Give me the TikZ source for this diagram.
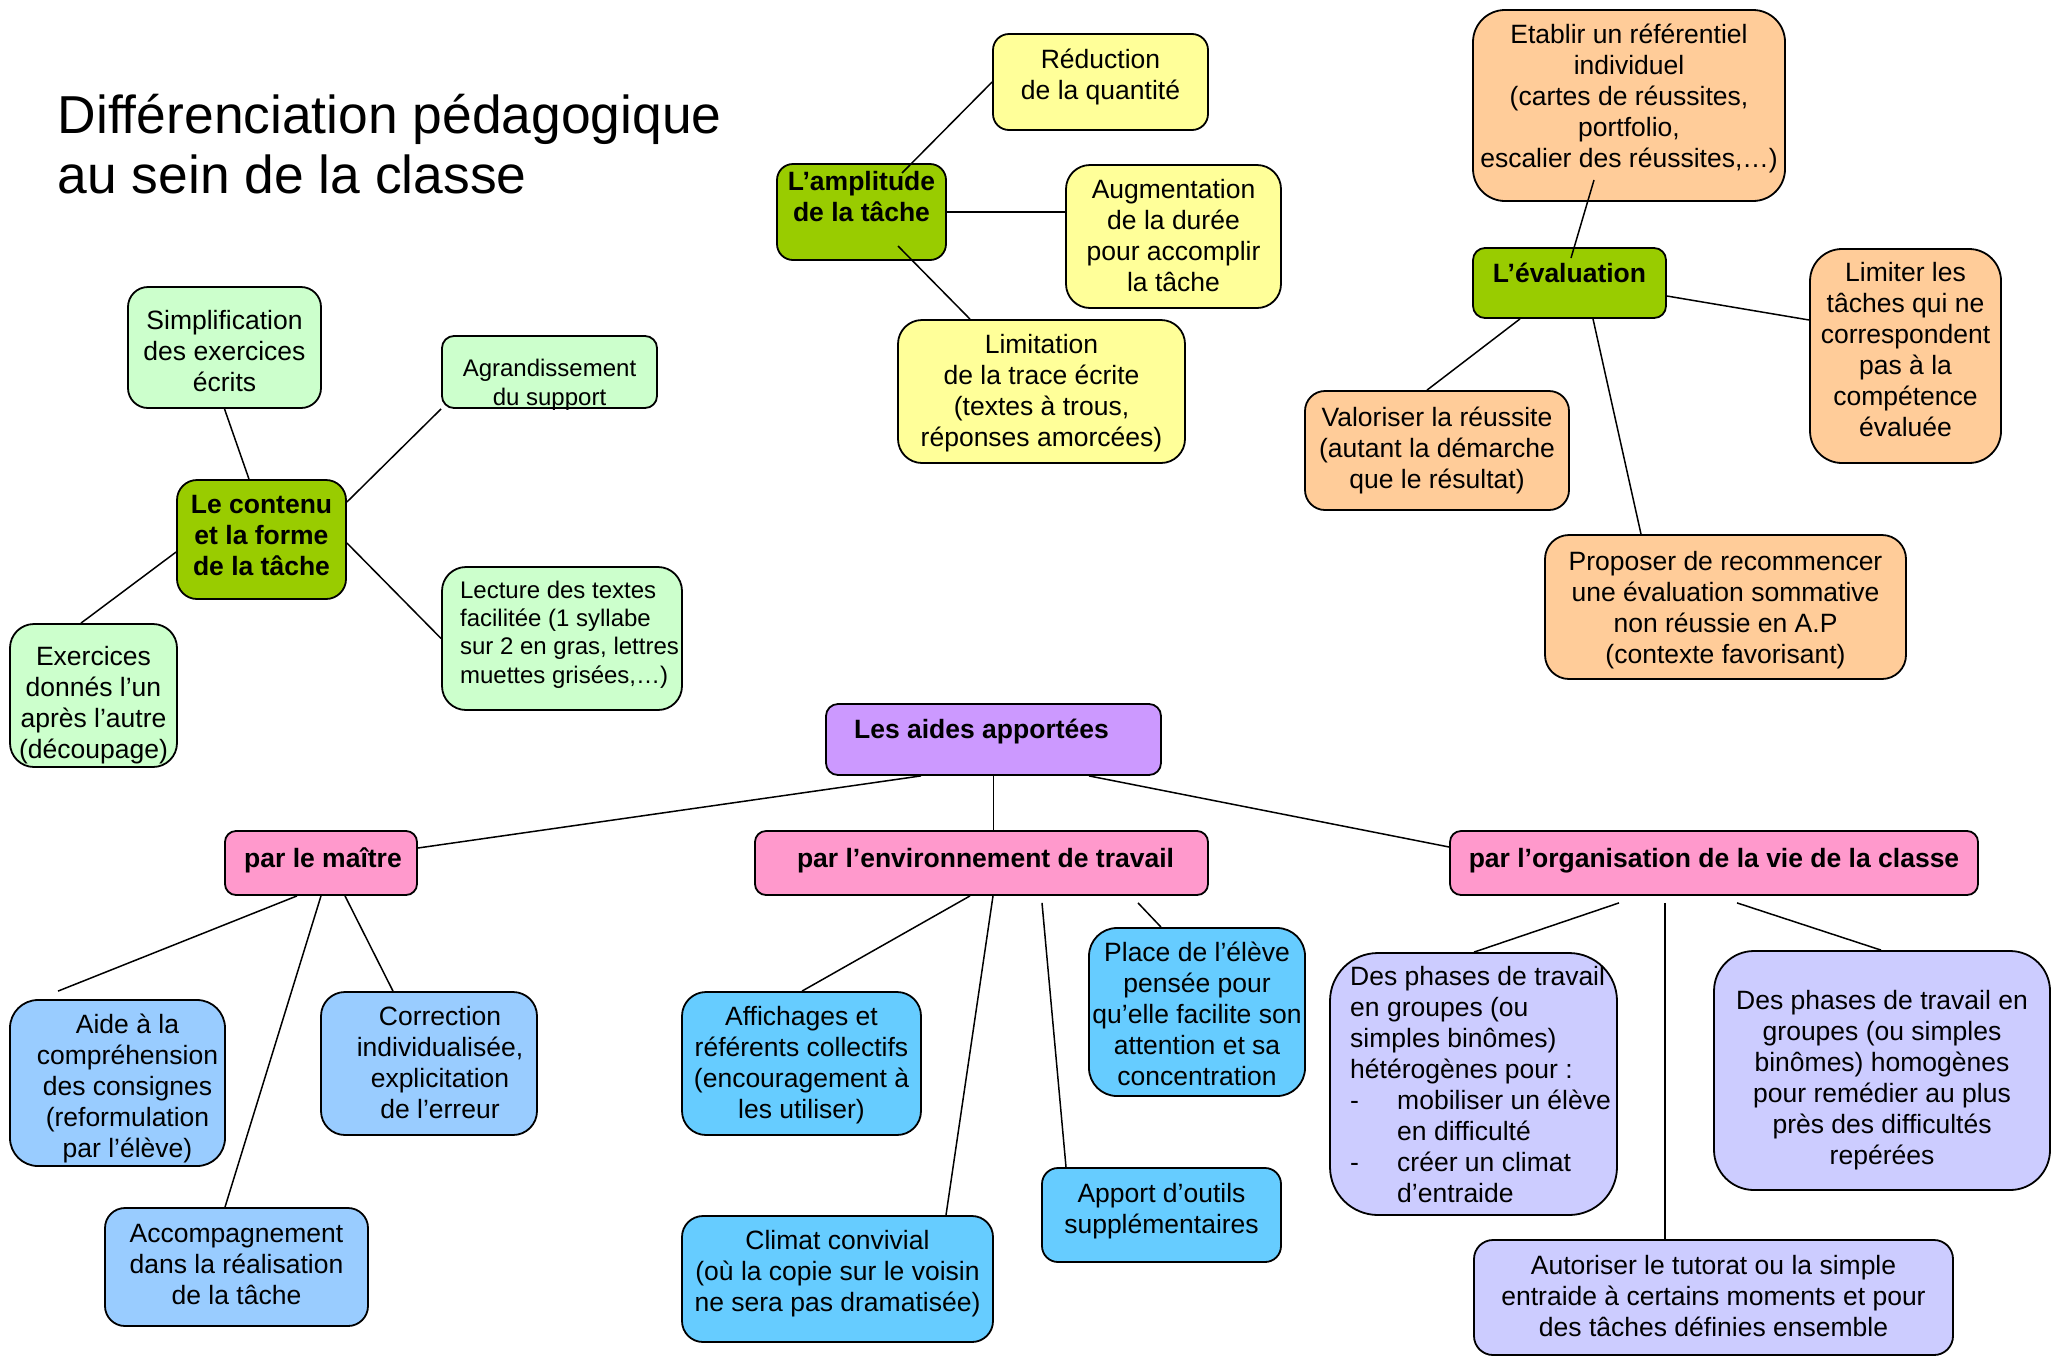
\documentclass[tikz,border=0pt]{standalone}
\usepackage{fontspec}
\setmainfont{Liberation Sans}
\usetikzlibrary{calc}
\definecolor{cgreen}{HTML}{99CC00}
\definecolor{clgreen}{HTML}{CCFFCC}
\definecolor{cyellow}{HTML}{FFFF99}
\definecolor{corange}{HTML}{FFCC99}
\definecolor{cpurple}{HTML}{CC99FF}
\definecolor{cpink}{HTML}{FF99CC}
\definecolor{cblue}{HTML}{99CCFF}
\definecolor{ccyan}{HTML}{66CCFF}
\definecolor{clav}{HTML}{CCCCFF}
\newsavebox\tbbox
% #1 x shift, #2 y shift (up), #3 column spec, #4 content
\newcommand\tb[4]{%
  \sbox\tbbox{\begin{tabular}{@{}#3@{}}#4\end{tabular}}%
  \raisebox{\dimexpr #2-4pt\relax}[\ht\tbbox][\dp\tbbox]{\makebox[\wd\tbbox][l]{\hspace*{#1}\usebox\tbbox}}}
\tikzset{
  box/.style={draw=black, line width=1.8pt, inner sep=1pt, font=\fontsize{26.5}{31}\selectfont},
  hdr/.style={box, font=\fontsize{26.5}{31}\selectfont\bfseries},
  small/.style={font=\fontsize{24}{28.4}\selectfont},
  link/.style={line width=1.5pt, draw=black},
  ttl/.style={anchor=base west, inner sep=0pt, font=\fontsize{53.4}{61}\selectfont},
}
\begin{document}
\begin{tikzpicture}[x=1pt,y=-1pt]
\fill[white] (0,0) rectangle (2055,1358);
\useasboundingbox (0,0) rectangle (2055,1358);

% title
\node[ttl] (title1) at (57.5,133) {Différenciation pédagogique};
\node[ttl] (title2) at (57.5,193.5) {au sein de la classe};

% amplitude
\node[hdr, fill=cgreen, minimum width=169pt, minimum height=96pt, rounded corners=16pt] (amp) at (861.5,212) {\tb{0pt}{16.5pt}{c}{L’amplitude\\de la tâche}};
\node[box, fill=cyellow, minimum width=215pt, minimum height=96pt, rounded corners=16pt] (red) at (1100.5,82) {\tb{0pt}{8.6pt}{c}{Réduction\\de la quantité}};
\node[box, fill=cyellow, minimum width=215pt, minimum height=143pt, rounded corners=24pt] (aug) at (1173.5,236.5) {\tb{0pt}{2pt}{c}{Augmentation\\de la durée\\pour accomplir\\la tâche}};
\node[box, fill=cyellow, minimum width=287pt, minimum height=143pt, rounded corners=24pt] (lim) at (1041.5,391.5) {\tb{0pt}{1.5pt}{c}{Limitation\\de la trace écrite\\(textes à trous,\\réponses amorcées)}};

% evaluation
\node[box, fill=corange, minimum width=312pt, minimum height=191pt, rounded corners=32pt] (eta) at (1629,105.5) {\tb{0pt}{10pt}{c}{Etablir un référentiel\\individuel\\(cartes de réussites,\\portfolio,\\escalier des réussites,…)}};
\node[hdr, fill=cgreen, minimum width=193pt, minimum height=70pt, rounded corners=12pt] (eva) at (1569.5,283) {\tb{0pt}{10.4pt}{c}{L’évaluation}};
\node[box, fill=corange, minimum width=191pt, minimum height=214pt, rounded corners=32pt] (limt) at (1905.5,356) {\tb{0pt}{7pt}{c}{Limiter les\\tâches qui ne\\correspondent\\pas à la\\compétence\\évaluée}};
\node[box, fill=corange, minimum width=264pt, minimum height=119pt, rounded corners=20pt] (val) at (1437,450.5) {\tb{0pt}{3pt}{c}{Valoriser la réussite\\(autant la démarche\\que le résultat)}};
\node[box, fill=corange, minimum width=361pt, minimum height=144pt, rounded corners=24pt] (pro) at (1725.5,607) {\tb{0pt}{0pt}{c}{Proposer de recommencer\\une évaluation sommative\\non réussie en A.P\\(contexte favorisant)}};

% contenu
\node[box, fill=clgreen, minimum width=193pt, minimum height=121pt, rounded corners=20pt] (sim) at (224.5,347.5) {\tb{0pt}{-3pt}{c}{Simplification\\des exercices\\écrits}};
\node[box, small, fill=clgreen, minimum width=215pt, minimum height=72pt, rounded corners=12pt] (agr) at (549.5,372) {\tb{0pt}{-9.4pt}{c}{Agrandissement\\du support}};
\node[hdr, fill=cgreen, minimum width=169pt, minimum height=119pt, rounded corners=20pt] (con) at (261.5,539.5) {\tb{0pt}{5pt}{c}{Le contenu\\et la forme\\de la tâche}};
\node[box, fill=clgreen, minimum width=167pt, minimum height=143pt, rounded corners=24pt] (exo) at (93.5,695.5) {\tb{0pt}{-6pt}{c}{Exercices\\donnés l’un\\après l’autre\\(découpage)}};
\node[box, small, fill=clgreen, minimum width=240pt, minimum height=143pt, rounded corners=24pt] (lec) at (562,638.5) {\tb{7.5pt}{7.5pt}{l}{Lecture des textes\\facilitée (1 syllabe\\sur 2 en gras, lettres\\muettes grisées,…)}};

% aides
\node[hdr, fill=cpurple, minimum width=335pt, minimum height=71pt, rounded corners=12pt] (aid) at (993.5,739.5) {\tb{-12pt}{11pt}{c}{Les aides apportées}};
\node[hdr, fill=cpink, minimum width=192pt, minimum height=64pt, rounded corners=11pt] (mai) at (321,863) {\tb{2pt}{6pt}{c}{par le maître}};
\node[hdr, fill=cpink, minimum width=453pt, minimum height=64pt, rounded corners=11pt] (env) at (981.5,863) {\tb{4pt}{6pt}{c}{par l’environnement de travail}};
\node[hdr, fill=cpink, minimum width=528pt, minimum height=64pt, rounded corners=11pt] (org) at (1714,863) {\tb{0pt}{6pt}{c}{par l’organisation de la vie de la classe}};

% par le maitre
\node[box, fill=cblue, minimum width=215pt, minimum height=166pt, rounded corners=28pt] (com) at (117.5,1083) {\tb{10pt}{-2pt}{c}{Aide à la\\compréhension\\des consignes\\(reformulation\\par l’élève)}};
\node[box, fill=cblue, minimum width=216pt, minimum height=143pt, rounded corners=24pt] (cor) at (429,1063.5) {\tb{11pt}{1.5pt}{c}{Correction\\individualisée,\\explicitation\\de l’erreur}};
\node[box, fill=cblue, minimum width=263pt, minimum height=118pt, rounded corners=20pt] (acc) at (236.5,1267) {\tb{0pt}{4pt}{c}{Accompagnement\\dans la réalisation\\de la tâche}};

% environnement
\node[box, fill=ccyan, minimum width=239pt, minimum height=143pt, rounded corners=24pt] (aff) at (801.5,1063.5) {\tb{0pt}{1.5pt}{c}{Affichages et\\référents collectifs\\(encouragement à\\les utiliser)}};
\node[box, fill=ccyan, minimum width=311pt, minimum height=126pt, rounded corners=21pt] (cli) at (837.5,1279) {\tb{0pt}{8.4pt}{c}{Climat convivial\\(où la copie sur le voisin\\ne sera pas dramatisée)}};
\node[box, fill=ccyan, minimum width=216pt, minimum height=168pt, rounded corners=28pt] (pla) at (1197,1012) {\tb{0pt}{-1.7pt}{c}{Place de l’élève\\pensée pour\\qu’elle facilite son\\attention et sa\\concentration}};
\node[box, fill=ccyan, minimum width=239pt, minimum height=94pt, rounded corners=16pt] (app) at (1161.5,1215) {\tb{0pt}{7pt}{c}{Apport d’outils\\supplémentaires}};

% organisation
\node[box, fill=clav, minimum width=287pt, minimum height=262pt, rounded corners=48pt] (het) at (1473.5,1084) {\tb{7pt}{0pt}{l}{Des phases de travail\\en groupes (ou\\simples binômes)\\hétérogènes pour :\\\makebox[47pt][l]{-}mobiliser un élève\\\hspace*{47pt}en difficulté\\\makebox[47pt][l]{-}créer un climat\\\hspace*{47pt}d’entraide}};
\node[box, fill=clav, minimum width=336pt, minimum height=239pt, rounded corners=40pt] (hom) at (1882,1070.5) {\tb{0pt}{-6pt}{c}{Des phases de travail en\\groupes (ou simples\\binômes) homogènes\\pour remédier au plus\\près des difficultés\\repérées}};
\node[box, fill=clav, minimum width=479pt, minimum height=115pt, rounded corners=19pt] (aut) at (1713.5,1297.5) {\tb{0pt}{2.5pt}{c}{Autoriser le tutorat ou la simple\\entraide à certains moments et pour\\des tâches définies ensemble}};

% connectors
\draw[link] ($(amp.center)+(40.5,-39)$) -- (red.west);
\draw[link] (amp.east) -- ($(aug.west)+(0,-24.5)$);
\draw[link] ($(amp.center)+(36.5,34)$) -- ($(lim.north)+(-71.5,0)$);
\draw[link] ($(eta.center)+(-35,74.5)$) -- ($(eva.center)+(1.5,-25)$);
\draw[link] ($(eva.east)+(0,13)$) -- ($(limt.west)+(0,-36)$);
\draw[link] ($(eva.south)+(-49.5,0)$) -- ($(val.north)+(-10,0)$);
\draw[link] ($(eva.south)+(23.5,0)$) -- ($(pro.north)+(-84.5,0)$);
\draw[link] (sim.south) -- ($(con.north)+(-12.5,0)$);
\draw[link] ($(con.east)+(0,-37.5)$) -- (agr.south west);
\draw[link] ($(con.west)+(0,12.5)$) -- ($(exo.north)+(-12.5,0)$);
\draw[link] ($(con.east)+(0,3.5)$) -- (lec.west);
\draw[link] ($(aid.south)+(-72.5,0)$) -- ($(mai.east)+(0,-15)$);
\draw[link] (aid.south) -- ($(env.north)+(12,0)$);
\draw[link] ($(aid.south)+(95.5,0)$) -- ($(org.west)+(0,-16)$);
\coordinate (comtop) at ($(com.north)+(-59.5,-8)$);
\draw[link] ($(mai.south)+(-24,0)$) -- (comtop);
\draw[link] (mai.south) -- ($(acc.north)+(-11.5,0)$);
\draw[link] ($(mai.south)+(24,0)$) -- ($(cor.north)+(-36,0)$);
\draw[link] ($(env.south)+(-11.5,0)$) -- ($(aff.north)+(0.5,0)$);
\draw[link] ($(env.south)+(11.5,0)$) -- ($(cli.north)+(108.5,0)$);
\draw[link] ($(env.south)+(60.5,7)$) -- ($(app.north)+(-95.5,0)$);
\draw[link] ($(env.south)+(156.5,7)$) -- ($(pla.north)+(-36,0)$);
\draw[link] ($(org.south)+(-95,7)$) -- ($(het.north)+(0.5,0)$);
\draw[link] ($(org.south)+(-49,7)$) -- ($(aut.north)+(-48.5,0)$);
\draw[link] ($(org.south)+(23,7)$) -- ($(hom.north)+(-1,0)$);
\end{tikzpicture}
\end{document}
